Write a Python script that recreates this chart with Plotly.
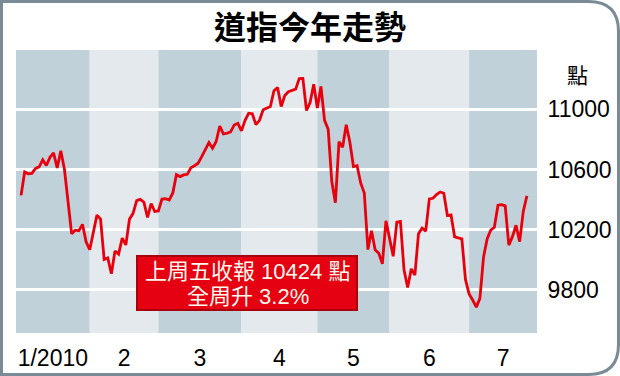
import plotly.graph_objects as go

# ---- data: DJIA daily closes (Dec 31 2009 .. Jul 23 2010) ----
dec31 = [10428]
jan = [10584, 10572, 10574, 10607, 10618, 10664, 10627, 10681, 10711, 10610,
       10725, 10603, 10390, 10173, 10197, 10194, 10236, 10120, 10067]
feb = [10186, 10297, 10271, 10002, 10012, 9908, 10059, 10038, 10144, 10099,
       10269, 10309, 10393, 10402, 10383, 10282, 10374, 10321, 10325]
mar = [10404, 10406, 10397, 10444, 10566, 10553, 10564, 10568, 10612, 10625,
       10642, 10686, 10734, 10779, 10742, 10786, 10889, 10836, 10841, 10850,
       10896, 10907, 10857]
apr = [10927, 10974, 10970, 10898, 10927, 10997, 11006, 11019, 11123, 11145,
       11019, 11092, 11117, 11125, 11134, 11204, 11205, 10992, 11045, 11167,
       11009]
may = [11152, 10927, 10868, 10520, 10380, 10785, 10748, 10897, 10783, 10620,
       10626, 10511, 10444, 10068, 10193, 10067, 10044, 9974, 10259, 10137]
jun = [10024, 10250, 10255, 9932, 9816, 9940, 9899, 10173, 10211, 10191,
       10405, 10409, 10434, 10451, 10442, 10294, 10298, 10153, 10144, 10139,
       9870, 9774]
jul = [9733, 9686, 9744, 10018, 10139, 10198, 10216, 10363, 10367, 10359,
       10098, 10154, 10230, 10121, 10322, 10425]

month_labels = ["1/2010", "2", "3", "4", "5", "6", "7"]
y_ticks = [9800, 10200, 10600, 11000]
y_tick_labels = ["9800", "10200", "10600", "11000"]
title_text = "道指今年走勢"
unit_text = "點"
note_line1 = "上周五收報 10424 點"
note_line2 = "全周升 3.2%"

months = [jan, feb, mar, apr, may, jun, jul]
values = dec31 + [v for m in months for v in m]
xs = list(range(len(values)))

# month band boundaries (index space)
x_lo, x_hi = -1.4, 142.8
bounds = [x_lo]
start = len(dec31)
for m in months[:-1]:
    start += len(m)
    bounds.append(start - 1)
bounds.append(x_hi)
centers = [(bounds[i] + bounds[i + 1]) / 2 for i in range(len(months))]

# ---- layout geometry (pixels) ----
W, H = 620, 376
L, R, T, B = 16, 83, 50, 43
pw, ph = W - L - R, H - T - B


def px(x):
    return (x - L) / pw


def py(y):
    return (H - B - y) / ph


dark = "#c1d1da"
light = "#e3e9ed"
shapes = []
for i in range(len(months)):
    shapes.append(dict(type="rect", xref="x", yref="paper",
                       x0=bounds[i], x1=bounds[i + 1], y0=0, y1=1,
                       fillcolor=dark if i % 2 == 0 else light,
                       line=dict(width=0), layer="below"))

# outer border with rounded right corners
r = 30
x0b, y0b, x1b, y1b = 1.5, 1.5, 618.5, 374.5
path = (f"M {px(x0b)},{py(y0b)} L {px(x1b - r)},{py(y0b)} "
        f"Q {px(x1b)},{py(y0b)} {px(x1b)},{py(y0b + r)} "
        f"L {px(x1b)},{py(y1b - r)} "
        f"Q {px(x1b)},{py(y1b)} {px(x1b - r)},{py(y1b)} "
        f"L {px(x0b)},{py(y1b)} Z")
shapes.append(dict(type="path", xref="paper", yref="paper", path=path,
                   line=dict(color="#7a8b96", width=3), fillcolor="rgba(0,0,0,0)",
                   layer="above"))

# annotation box
shapes.append(dict(type="rect", xref="paper", yref="paper",
                   x0=px(137), x1=px(357), y0=py(310), y1=py(256),
                   fillcolor="#e50012", line=dict(color="#a8000c", width=2),
                   layer="above"))

num_font = "Liberation Sans, Arial, Noto Sans CJK TC, sans-serif"
cjk_font = "Liberation Sans, Noto Sans CJK TC, sans-serif"

annotations = [
    dict(text=unit_text, xref="paper", yref="paper", x=px(577), y=py(74),
         showarrow=False, xanchor="center", yanchor="middle",
         font=dict(family="Noto Sans CJK TC", size=21, color="black")),
    dict(text=note_line1, xref="paper", yref="paper", x=px(247), y=py(271),
         showarrow=False, xanchor="center", yanchor="middle",
         font=dict(family=cjk_font, size=22, color="#fff8ec")),
    dict(text=note_line2, xref="paper", yref="paper", x=px(247.5), y=py(296),
         showarrow=False, xanchor="center", yanchor="middle",
         font=dict(family=cjk_font, size=22, color="#fff8ec")),
]

fig = go.Figure()
fig.add_trace(go.Scatter(x=xs, y=values, mode="lines",
                         line=dict(color="#e8000d", width=2.8),
                         hoverinfo="skip"))

fig.update_layout(
    width=W, height=H,
    margin=dict(l=L, r=R, t=T, b=B, autoexpand=False),
    paper_bgcolor="white", plot_bgcolor="rgba(0,0,0,0)",
    showlegend=False,
    title=dict(text=title_text, xref="container", yref="container",
               x=0.5, y=1 - 28 / H, xanchor="center", yanchor="middle",
               font=dict(family="Noto Sans CJK TC", size=32, color="black",
                         weight="bold")),
    xaxis=dict(range=[x_lo, x_hi], tickvals=centers, ticktext=month_labels,
               showgrid=False, zeroline=False, showline=False,
               ticks="outside", ticklen=4, tickcolor="rgba(0,0,0,0)",
               tickfont=dict(family=num_font, size=23, color="black"),
               fixedrange=True),
    yaxis=dict(range=[9514, 11394], side="right", tickvals=y_ticks,
               ticktext=y_tick_labels,
               showgrid=True, gridcolor="white", gridwidth=2.5,
               zeroline=False, showline=False,
               ticks="outside", ticklen=5, tickcolor="rgba(0,0,0,0)",
               tickfont=dict(family=num_font, size=23, color="black"),
               fixedrange=True),
    shapes=shapes,
    annotations=annotations,
)

fig.write_html("out.html")
